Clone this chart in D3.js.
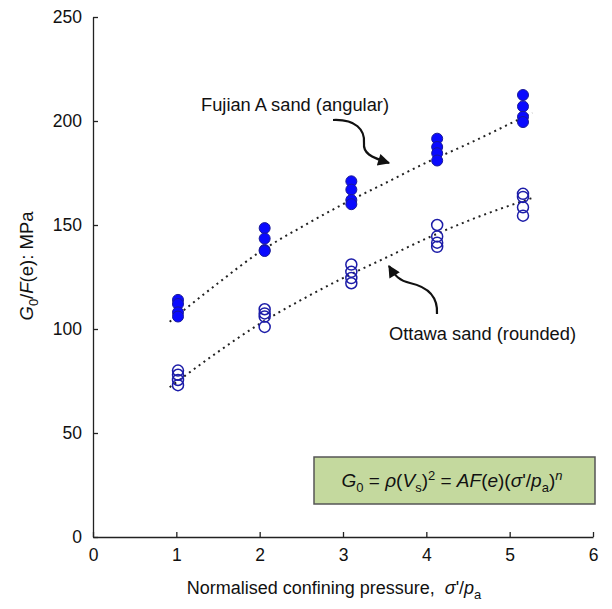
<!DOCTYPE html>
<html>
<head>
<meta charset="utf-8">
<script src="https://cdn.jsdelivr.net/npm/d3@7"></script>
<style>
  body { margin: 0; background: #fff; }
  text { font-family: "Liberation Sans", Arial, sans-serif; fill: #111; }
</style>
</head>
<body>
<div id="chart"></div>
<script>
// pressure levels (as plotted) and measured values
const fujianX = [1.02, 2.06, 3.1, 4.13, 5.16];
const fujianVals = [
  [114, 112, 108, 106],
  [148.5, 143.5, 138, 137.5],
  [171, 167, 162, 160],
  [191.5, 187.5, 184.5, 181],
  [212.5, 207, 202, 199.5]
];
const ottawaX = [1.02, 2.06, 3.1, 4.13, 5.16];
const ottawaVals = [
  [80, 78, 75.5, 73],
  [109.5, 107.5, 106, 101],
  [131, 127.5, 124.5, 122],
  [150, 144.5, 141.5, 139.5],
  [165, 163.5, 158.5, 154.5]
];
// trend lines
const fujianTrend = [[0.92, 103.5], [1.5, 122], [2, 137], [2.5, 149], [3, 160], [3.5, 170], [4, 180], [4.5, 189], [5.27, 204]];
const ottawaTrend = [[0.92, 72], [1.5, 89], [2, 102.5], [2.5, 114], [3, 124.5], [3.5, 134], [4, 143.5], [4.5, 152], [5.27, 163]];
const xTicks = [0, 1, 2, 3, 4, 5, 6];
const yTicks = [0, 50, 100, 150, 200, 250];

const w = 612, h = 609;
const mLeft = 93, mRight = 593, mTop = 17, mBottom = 537;

const svg = d3.select("#chart").append("svg")
  .attr("width", w).attr("height", h);

const x = d3.scaleLinear().domain([0, 6]).range([mLeft, mRight]);
const y = d3.scaleLinear().domain([0, 250]).range([mBottom, mTop]);

// axes with inward ticks
const xAxis = svg.append("g")
  .attr("transform", `translate(0,${mBottom})`)
  .call(d3.axisBottom(x).tickValues(xTicks).tickFormat(d3.format("d"))
    .tickSizeInner(-5).tickSizeOuter(0).tickPadding(12));
const yAxis = svg.append("g")
  .attr("transform", `translate(${mLeft},0)`)
  .call(d3.axisLeft(y).tickValues(yTicks).tickSizeInner(-5).tickSizeOuter(0).tickPadding(11));
[xAxis, yAxis].forEach(g => {
  g.select(".domain").attr("stroke", "#222").attr("stroke-width", 1.3);
  g.selectAll(".tick line").attr("stroke", "#222").attr("stroke-width", 1.3);
  g.selectAll(".tick text").style("font-size", "17.5px").attr("fill", "#111")
    .style("font-family", '"Liberation Sans", Arial, sans-serif');
});

// trend lines
const line = d3.line().x(d => x(d[0])).y(d => y(d[1])).curve(d3.curveMonotoneX);
[fujianTrend, ottawaTrend].forEach(t => {
  svg.append("path").attr("d", line(t))
    .attr("fill", "none").attr("stroke", "#222")
    .attr("stroke-width", 2).attr("stroke-dasharray", "2,4");
});

// points
const flat = (xs, vals) => vals.flatMap((v, i) => v.map(val => [xs[i], val]));
svg.append("g").selectAll("circle")
  .data(flat(ottawaX, ottawaVals)).enter().append("circle")
  .attr("cx", d => x(d[0])).attr("cy", d => y(d[1])).attr("r", 5.5)
  .attr("fill", "none").attr("stroke", "#1c1ca8").attr("stroke-width", 1.5);
svg.append("g").selectAll("circle")
  .data(flat(fujianX, fujianVals)).enter().append("circle")
  .attr("cx", d => x(d[0])).attr("cy", d => y(d[1])).attr("r", 5.5)
  .attr("fill", "#0a0aff").attr("stroke", "#1a1a99").attr("stroke-width", 1);

// arrows
svg.append("defs").append("marker")
  .attr("id", "head").attr("viewBox", "0 0 10 10")
  .attr("refX", 9).attr("refY", 5)
  .attr("markerWidth", 6.5).attr("markerHeight", 5.5)
  .attr("markerUnits", "strokeWidth").attr("orient", "auto")
  .append("path").attr("d", "M0,0 L10,5 L0,10 z").attr("fill", "#111");

svg.append("path")
  .attr("d", "M333,120 C356,119 365,130 364,143 C363,153 370,157 389,163")
  .attr("fill", "none").attr("stroke", "#111").attr("stroke-width", 2.2)
  .attr("marker-end", "url(#head)");
svg.append("path")
  .attr("d", "M437,314 C438,297 428,287 410,283 C400,281 395,276 389,266")
  .attr("fill", "none").attr("stroke", "#111").attr("stroke-width", 2.2)
  .attr("marker-end", "url(#head)");

// annotations
svg.append("text").attr("x", 201).attr("y", 111)
  .style("font-size", "18.3px").text("Fujian A sand (angular)");
svg.append("text").attr("x", 389).attr("y", 340)
  .style("font-size", "18.3px").text("Ottawa sand (rounded)");

// equation box
svg.append("rect").attr("x", 314).attr("y", 457).attr("width", 281).attr("height", 47)
  .attr("fill", "#c4d99e").attr("stroke", "#555").attr("stroke-width", 1.5);
const eq = svg.append("text").attr("x", 452).attr("y", 487)
  .attr("text-anchor", "middle").style("font-size", "19px");
eq.append("tspan").style("font-style", "italic").text("G");
eq.append("tspan").attr("dy", 5).style("font-size", "13px").text("0");
eq.append("tspan").attr("dy", -5).text(" = ");
eq.append("tspan").style("font-style", "italic").text("ρ");
eq.append("tspan").text("(");
eq.append("tspan").style("font-style", "italic").text("V");
eq.append("tspan").attr("dy", 5).style("font-size", "13px").text("s");
eq.append("tspan").attr("dy", -5).text(")");
eq.append("tspan").attr("dy", -7).style("font-size", "13px").text("2");
eq.append("tspan").attr("dy", 7).text(" = ");
eq.append("tspan").style("font-style", "italic").text("AF");
eq.append("tspan").text("(");
eq.append("tspan").style("font-style", "italic").text("e");
eq.append("tspan").text(")(");
eq.append("tspan").style("font-style", "italic").text("σ");
eq.append("tspan").text("'/");
eq.append("tspan").style("font-style", "italic").text("p");
eq.append("tspan").attr("dy", 5).style("font-size", "13px").text("a");
eq.append("tspan").attr("dy", -5).text(")");
eq.append("tspan").attr("dy", -7).style("font-size", "13px").style("font-style", "italic").text("n");

// axis labels
const xl = svg.append("text").attr("x", 334).attr("y", 594)
  .attr("text-anchor", "middle").style("font-size", "18px")
  .style("white-space", "pre");
xl.append("tspan").text("Normalised confining pressure,  ");
xl.append("tspan").style("font-style", "italic").text("σ");
xl.append("tspan").text("'/");
xl.append("tspan").style("font-style", "italic").text("p");
xl.append("tspan").attr("dy", 5).style("font-size", "13px").text("a");

const yl = svg.append("text")
  .attr("transform", "translate(33,266) rotate(-90)")
  .attr("text-anchor", "middle").style("font-size", "18.5px");
yl.append("tspan").style("font-style", "italic").text("G");
yl.append("tspan").attr("dy", 5).style("font-size", "13px").text("0");
yl.append("tspan").attr("dy", -5).text("/");
yl.append("tspan").style("font-style", "italic").text("F");
yl.append("tspan").text("(e): MPa");
</script>
</body>
</html>
